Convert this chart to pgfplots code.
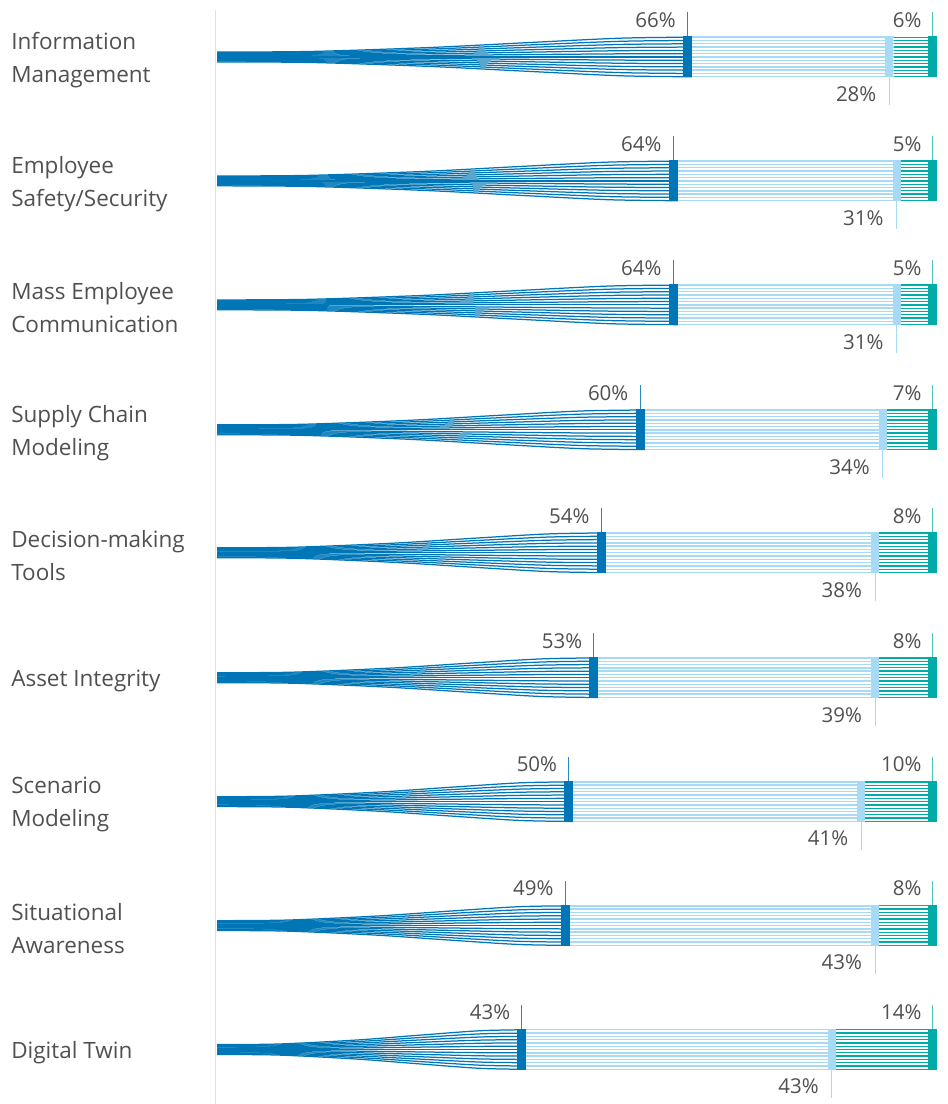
\documentclass[border=0pt]{standalone}
\usepackage{fontspec}
\setmainfont{Open Sans}
\usepackage{pgfplots}
\usepackage{pgfplotstable}
\pgfplotsset{compat=1.18}

\definecolor{dblue}{RGB}{0,118,182}
\definecolor{lblue}{RGB}{167,218,244}
\definecolor{tealc}{RGB}{0,171,168}
\definecolor{txtgray}{RGB}{80,80,80}

% row centre (px from top), then the three shares
\pgfplotstableread{
rc v1 v2 v3
57 66 28 6
181 64 31 5
305 64 31 5
430 60 34 7
553 54 38 8
678 53 39 8
802 50 41 10
926 49 43 8
1050 43 43 14
}\shares

\newcommand\catfont{\fontsize{22.5}{33}\selectfont}
\newcommand\pctfont{\fontsize{20.5}{24}\selectfont}

\begin{document}
\begin{tikzpicture}
\begin{axis}[
  width=948pt, height=1104pt, scale only axis,
  xmin=-30.139, xmax=101.528, ymin=0, ymax=1104, y dir=reverse,
  clip=false, axis line style={draw=none}, major tick length=0pt,
  xtick=\empty,
  ytick={57,181,305,430,553,678,802,926,1050},
  yticklabels={{Information\\Management},{Employee\\Safety/Security},{Mass Employee\\Communication},{Supply Chain\\Modeling},{Decision-making\\Tools},{Asset Integrity},{Scenario\\Modeling},{Situational\\Awareness},{Digital Twin}},
  yticklabel style={anchor=west, align=left, inner sep=0pt, xshift=11pt, yshift=-3pt, font=\catfont, text=txtgray},
]
\addplot[black!12, line width=1pt] coordinates {(-0.15,10) (-0.15,1104)};

\pgfplotsforeachungrouped \rowi in {0,...,8}{
  \pgfplotstablegetelem{\rowi}{rc}\of\shares \let\rc\pgfplotsretval
  \pgfplotstablegetelem{\rowi}{v1}\of\shares \let\va\pgfplotsretval
  \pgfplotstablegetelem{\rowi}{v2}\of\shares \let\vb\pgfplotsretval
  \pgfplotstablegetelem{\rowi}{v3}\of\shares \let\vc\pgfplotsretval
  \pgfmathsetmacro\sm{\va+\vb+\vc}
  \pgfmathsetmacro\xa{100*\va/\sm}
  \pgfmathsetmacro\xb{100*(\va+\vb)/\sm}
  \pgfmathsetmacro\fa{0.2*\xa}
  \pgfmathsetmacro\fb{0.45*\xa}
  \pgfmathsetmacro\fc{0.65*\xa}
  \pgfmathsetmacro\fd{0.85*\xa}
  % fan + light blue + teal strands
  \pgfplotsforeachungrouped \kk in {-6,...,6}{
    \pgfmathsetmacro\off{3.3*\kk}
    \pgfmathsetmacro\ya{\rc+0.25*\off}
    \pgfmathsetmacro\yb{\rc+0.28*\off}
    \pgfmathsetmacro\yc{\rc+0.48*\off}
    \pgfmathsetmacro\yd{\rc+0.72*\off}
    \pgfmathsetmacro\ye{\rc+0.95*\off}
    \pgfmathsetmacro\yf{\rc+\off}
    \edef\tmp{\noexpand\addplot[dblue, line width=1.25pt, smooth] coordinates {(0,\ya) (\fa,\yb) (\fb,\yc) (\fc,\yd) (\fd,\ye) (\xa,\yf)};}\tmp
    \edef\tmp{\noexpand\addplot[lblue, line width=1.4pt] coordinates {(\xa,\yf) (\xb,\yf)};}\tmp
    \edef\tmp{\noexpand\addplot[tealc, line width=1.3pt] coordinates {(\xb,\yf) (100,\yf)};}\tmp
  }
  \pgfmathsetmacro\ma{\xa-0.625}
  \pgfmathsetmacro\mb{\xb-0.56}
  \pgfmathsetmacro\ytop{\rc-20.5}
  \pgfmathsetmacro\ybot{\rc+20.5}
  \pgfmathsetmacro\tkt{\rc-45}
  \pgfmathsetmacro\tkb{\rc+48}
  \edef\tmp{\noexpand\addplot[dblue, line width=9pt] coordinates {(\ma,\ytop) (\ma,\ybot)};}\tmp
  \edef\tmp{\noexpand\addplot[lblue, line width=8pt] coordinates {(\mb,\ytop) (\mb,\ybot)};}\tmp
  \edef\tmp{\noexpand\addplot[tealc, line width=9pt] coordinates {(99.375,\ytop) (99.375,\ybot)};}\tmp
  \edef\tmp{\noexpand\addplot[dblue!85, line width=1pt] coordinates {(\ma,\ytop) (\ma,\tkt)};}\tmp
  \edef\tmp{\noexpand\addplot[lblue, line width=1pt] coordinates {(\mb,\ybot) (\mb,\tkb)};}\tmp
  \edef\tmp{\noexpand\addplot[tealc!70, line width=1pt] coordinates {(99.375,\ytop) (99.375,\tkt)};}\tmp
  \pgfmathsetmacro\la{\ma-1.6}
  \pgfmathsetmacro\lb{\mb-1.8}
  \pgfmathsetmacro\lyt{\rc-37}
  \pgfmathsetmacro\lyb{\rc+37}
  \edef\tmp{\noexpand\node[anchor=east, inner sep=0pt, font=\noexpand\pctfont, text=txtgray] at (axis cs:\la,\lyt) {\va\noexpand\%};}\tmp
  \edef\tmp{\noexpand\node[anchor=east, inner sep=0pt, font=\noexpand\pctfont, text=txtgray] at (axis cs:\lb,\lyb) {\vb\noexpand\%};}\tmp
  \edef\tmp{\noexpand\node[anchor=east, inner sep=0pt, font=\noexpand\pctfont, text=txtgray] at (axis cs:97.9,\lyt) {\vc\noexpand\%};}\tmp
}
\end{axis}
\end{tikzpicture}
\end{document}
